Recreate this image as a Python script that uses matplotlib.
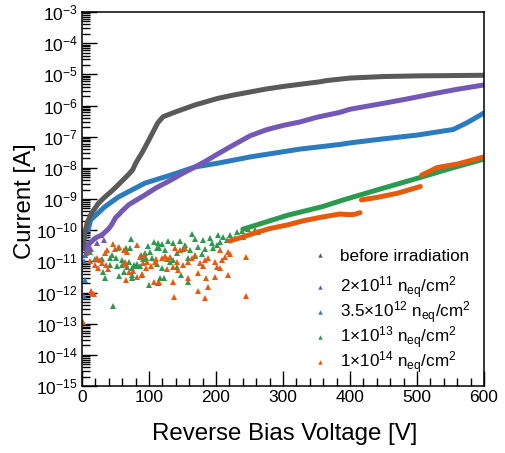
import numpy as np
import matplotlib
matplotlib.use("Agg")
import matplotlib.pyplot as plt
from matplotlib.ticker import LogLocator, MultipleLocator, NullFormatter

plt.rcParams["font.family"] = ["Liberation Sans", "DejaVu Sans"]
plt.rcParams["mathtext.fontset"] = "custom"
plt.rcParams["mathtext.rm"] = "Liberation Sans"
plt.rcParams["mathtext.it"] = "Liberation Sans:italic"
plt.rcParams["mathtext.bf"] = "Liberation Sans:bold"
plt.rcParams["mathtext.default"] = "regular"

# ---- data (voltage in V, log10 of current in A) ----
gray_v = [1, 3, 5, 8, 12, 16, 20, 24, 30, 36, 43, 50, 57, 64, 70, 76, 78, 81, 90,
          100, 113, 121, 139, 169, 203, 225, 250, 275, 300, 325, 355, 365, 400,
          450, 500, 550, 600]
gray_log = [-10.6, -10.3, -10.0, -9.75, -9.55, -9.4, -9.28, -9.15, -9.02, -8.9,
            -8.77, -8.63, -8.48, -8.33, -8.2, -8.05, -7.95, -7.82, -7.5, -7.1,
            -6.56, -6.36, -6.21, -5.98, -5.77, -5.67, -5.57, -5.47, -5.39, -5.32,
            -5.24, -5.2, -5.12, -5.07, -5.05, -5.04, -5.03]

purple_v = [2, 5, 10, 15, 20, 25, 30, 35, 40, 45, 50, 55, 60, 70, 80, 94, 110, 133,
            150, 169, 185, 203, 225, 251, 275, 300, 325, 350, 385, 400, 450, 485,
            525, 560, 600]
purple_log = [-10.5, -10.6, -10.45, -10.35, -10.25, -10.2, -10.15, -10.05, -9.95,
              -9.8, -9.6, -9.5, -9.38, -9.18, -9.05, -8.87, -8.65, -8.39, -8.18,
              -7.97, -7.78, -7.55, -7.28, -6.97, -6.78, -6.64, -6.53, -6.38, -6.22,
              -6.12, -5.93, -5.79, -5.62, -5.48, -5.34]
purple_pts_v = [4.5, 6, 9, 14, 28, 22, 33]
purple_pts_log = [-10.47, -10.73, -10.41, -10.6, -10.15, -10.4, -10.3]

blue_v = [9, 13, 24, 34, 54, 69, 94, 133, 169, 203, 251, 325, 385, 400, 450, 500,
          554, 575, 600]
blue_log = [-10.0, -9.67, -9.45, -9.25, -8.94, -8.77, -8.49, -8.23, -7.97, -7.85,
            -7.65, -7.4, -7.25, -7.2, -7.07, -6.95, -6.77, -6.55, -6.24]
blue_pts_v = [1, 3, 4, 3, 5, 8, 2, 6]
blue_pts_log = [-10.1, -11.0, -11.6, -12.1, -10.8, -10.5, -10.4, -10.2]

green_pts_v = [73.6, 107, 113, 119, 129, 115, 53, 65, 71, 98, 112, 124, 94, 88, 102,
               20, 30, 42, 50, 60, 70, 45, 82, 77, 86, 95, 91, 104, 42, 52, 60, 67,
               75, 80, 112, 132, 119, 32, 55, 62, 75, 35, 74, 89, 117, 123, 100, 113,
               47, 163.6, 146.2, 135.3, 153.7, 168.6, 181, 191, 203.4, 210.9, 220.9,
               230.8, 238.3, 248.2, 258.2, 263.1, 151.2, 161.2, 173.6, 183.5, 193.5,
               201, 205.9, 215.9, 228.3, 240.8, 141.2, 158.7, 168.6, 178.6, 136.3,
               142.2, 147.7, 158.7, 196, 3, 8, 12]
green_pts_log = [-10.28, -10.39, -10.42, -10.45, -10.35, -10.56, -10.58, -10.56,
                 -10.56, -10.5, -10.58, -10.64, -10.74, -10.8, -10.69, -10.93, -10.93,
                 -10.9, -10.9, -10.96, -11.01, -10.8, -11.1, -11.12, -11.14, -10.88,
                 -10.93, -10.9, -11.12, -11.15, -11.12, -11.17, -11.2, -11.14, -11.1,
                 -11.01, -11.22, -11.33, -11.47, -11.33, -11.44, -11.52, -11.54,
                 -11.44, -11.54, -11.52, -11.76, -11.68, -12.42, -10.13, -10.35,
                 -10.42, -10.47, -10.28, -10.31, -10.24, -10.15, -10.21, -10.15,
                 -10.07, -10.03, -9.96, -9.99, -10.05, -10.6, -10.64, -10.53, -10.6,
                 -10.42, -10.47, -10.37, -10.31, -10.26, -10.21, -10.74, -10.9,
                 -10.82, -10.77, -10.96, -11.17, -11.44, -11.65, -10.58, -10.3,
                 -10.6, -10.7]
green_v = [240, 258, 307, 358, 390, 450, 500, 550, 600]
green_log = [-9.97, -9.85, -9.52, -9.25, -9.03, -8.65, -8.34, -8.02, -7.72]

orange_pts_v = [10, 7.5, 45.8, 37.3, 34.8, 49.8, 54.7, 62.2, 67.2, 82.1, 22.4, 27.4,
                19.9, 23.9, 29.9, 35.8, 38.8, 63.7, 65.7, 69.7, 75.6, 87.1, 92, 97,
                90.5, 103.5, 108.5, 110.4, 119.4, 123.4, 126.9, 131.8, 95.5, 82.1,
                89.6, 65.7, 107, 115.4, 126.9, 13.9, 17.4, 1.5, 15, 138.8, 146.2,
                153.7, 141.3, 135.3, 143.7, 151.2, 158.7, 163.6, 168.6, 176.1, 181,
                183.5, 188.5, 198.5, 201, 206, 208.4, 213.4, 218.4, 206, 220.9, 136.3,
                158.7, 173.6, 185, 198.5, 218.4, 244.7, 137.8, 172.6, 188.5, 183.5,
                244.7, 4, 12]
orange_pts_log = [-10.53, -10.69, -10.44, -10.64, -10.74, -10.6, -10.53, -10.64,
                  -10.69, -10.47, -10.9, -10.96, -11.12, -11.22, -11.06, -11.12,
                  -11.24, -11.01, -11.1, -11.33, -11.31, -10.85, -10.8, -11.01,
                  -11.04, -11.14, -11.03, -10.93, -10.9, -10.83, -10.93, -10.85,
                  -11.2, -11.49, -11.42, -11.6, -11.65, -11.65, -11.26, -11.95,
                  -12.06, -12.95, -12.0, -10.58, -10.64, -10.56, -11.01, -11.17,
                  -11.28, -11.12, -11.01, -10.9, -10.8, -11.06, -11.15, -10.96,
                  -10.88, -11.01, -11.17, -11.2, -10.96, -10.85, -10.69, -10.64,
                  -10.77, -11.65, -11.52, -11.38, -11.52, -11.49, -11.44, -10.85,
                  -12.16, -11.95, -11.81, -12.19, -12.1, -10.8, -11.0]
orange_v1 = [220, 240, 258, 280, 307, 330, 358, 385, 395, 405, 415]
orange_log1 = [-10.35, -10.22, -10.09, -9.95, -9.83, -9.7, -9.58, -9.48, -9.5, -9.5,
               -9.44]
orange_v2 = [417, 440, 470, 505]
orange_log2 = [-9.03, -8.95, -8.82, -8.6]
orange_v3 = [507, 520, 530, 560, 600]
orange_log3 = [-8.23, -8.1, -7.99, -7.88, -7.65]

labels = ["before irradiation",
          "2×10$^{11}$ n$_{eq}$/cm$^{2}$",
          "3.5×10$^{12}$ n$_{eq}$/cm$^{2}$",
          "1×10$^{13}$ n$_{eq}$/cm$^{2}$",
          "1×10$^{14}$ n$_{eq}$/cm$^{2}$"]
colors = ["#5a5a5a", "#7359b5", "#2b7bbf", "#2b9a4f", "#e65a10"]


def cur(logs):
    return 10.0 ** np.array(logs)


fig = plt.figure(figsize=(5.06, 4.53), dpi=100)
ax = fig.add_axes([82 / 506, 67 / 453, 402 / 506, 374 / 453])

lw = 3.6
ms = 4.2
tri = dict(ls="none", marker="^", ms=ms, mew=0)

# scattered low-current points first (underneath)
ax.plot(green_pts_v, cur(green_pts_log), color=colors[3], **tri)
ax.plot(orange_pts_v, cur(orange_pts_log), color=colors[4], **tri)

# dense measurements
ax.plot(green_v, cur(green_log), color=colors[3], lw=lw, solid_capstyle="round")
for v, lg in [(orange_v1, orange_log1), (orange_v2, orange_log2), (orange_v3, orange_log3)]:
    ax.plot(v, cur(lg), color=colors[4], lw=lw, solid_capstyle="round")
ax.plot(blue_v, cur(blue_log), color=colors[2], lw=lw, solid_capstyle="round")
ax.plot(blue_pts_v, cur(blue_pts_log), color=colors[2], **tri)
ax.plot(purple_v, cur(purple_log), color=colors[1], lw=lw, solid_capstyle="round")
ax.plot(purple_pts_v, cur(purple_pts_log), color=colors[1], **tri)
ax.plot(gray_v, cur(gray_log), color=colors[0], lw=lw, solid_capstyle="round")

# legend entries (triangle markers only); first row separate so the spacing stays even
handles = []
for c, lab in zip(colors, labels):
    h, = ax.plot([], [], color=c, ls="none", marker="^", ms=3.2, mew=0, label=lab)
    handles.append(h)
leg_kw = dict(loc="upper left", frameon=False, fontsize=12.3, handlelength=1.0,
              handletextpad=0.65, borderpad=0, borderaxespad=0)
leg1 = ax.legend(handles=handles[:1], bbox_to_anchor=(0.572, 0.367), **leg_kw)
ax.add_artist(leg1)
ax.legend(handles=handles[1:], bbox_to_anchor=(0.572, 0.298), labelspacing=-0.08,
          **leg_kw)

ax.set_yscale("log")
ax.set_xlim(0, 600)
ax.set_ylim(1e-15, 1e-3)
ax.xaxis.set_major_locator(MultipleLocator(100))
ax.xaxis.set_minor_locator(MultipleLocator(20))
ax.yaxis.set_major_locator(LogLocator(base=10, numticks=100))
ax.yaxis.set_minor_locator(LogLocator(base=10, subs=np.arange(2, 10), numticks=200))
ax.yaxis.set_minor_formatter(NullFormatter())

ax.tick_params(which="both", direction="in", top=False, right=False, width=1)
ax.tick_params(which="major", length=11, labelsize=12.5, pad=3)
ax.tick_params(which="minor", length=6)
for s in ax.spines.values():
    s.set_linewidth(1.1)

ax.set_xlabel("Reverse Bias Voltage [V]", fontsize=17.3)
ax.set_ylabel("Current [A]", fontsize=17.3)
ax.xaxis.set_label_coords(0.505, -0.1)
ax.yaxis.set_label_coords(-0.115, 0.493)

fig.savefig("out.png", dpi=100)
